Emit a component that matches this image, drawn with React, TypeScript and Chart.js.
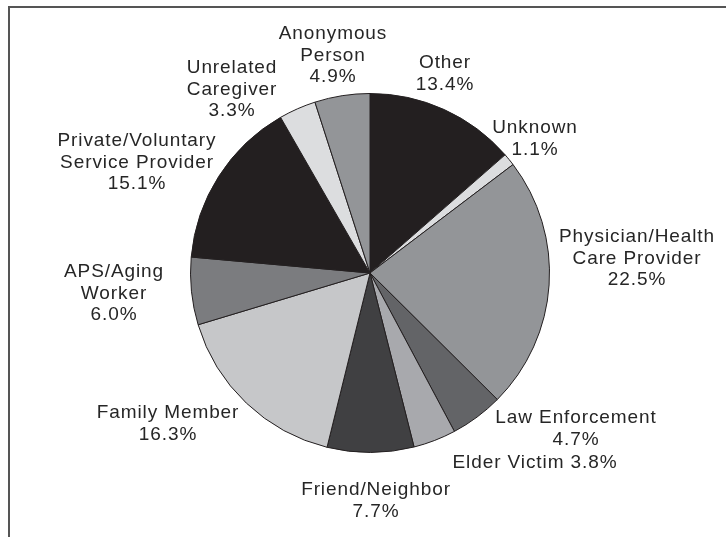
import React, { useEffect, useRef } from "react";
import { Chart, registerables } from "chart.js";

Chart.register(...registerables);

// ---- data ----
const categories = [
  "Other",
  "Unknown",
  "Physician/Health Care Provider",
  "Law Enforcement",
  "Elder Victim",
  "Friend/Neighbor",
  "Family Member",
  "APS/Aging Worker",
  "Private/Voluntary Service Provider",
  "Unrelated Caregiver",
  "Anonymous Person",
];
const shares = [13.4, 1.1, 22.5, 4.7, 3.8, 7.7, 16.3, 6.0, 15.1, 3.3, 4.9];

// label text split into lines
const labelLines = [
  ["Other"],
  ["Unknown"],
  ["Physician/Health", "Care Provider"],
  ["Law Enforcement"],
  ["Elder Victim"],
  ["Friend/Neighbor"],
  ["Family Member"],
  ["APS/Aging", "Worker"],
  ["Private/Voluntary", "Service Provider"],
  ["Unrelated", "Caregiver"],
  ["Anonymous", "Person"],
];
const percentOnSameLine = [false, false, false, false, true, false, false, false, false, false, false];

// ---- styles / layout ----
const sliceColors = [
  "#231f20",
  "#dcdddf",
  "#939598",
  "#636467",
  "#a8a9ad",
  "#404042",
  "#c6c7c9",
  "#7b7c7f",
  "#231f20",
  "#dcdddf",
  "#939598",
];
// offsets (px) of each label's first baseline, relative to pie centre
const labelOffsets: [number, number][] = [
  [75, -205],
  [165, -140],
  [267, -31],
  [206, 150],
  [165, 195],
  [6, 222],
  [-202, 145],
  [-256, 4],
  [-233, -127],
  [-138, -200],
  [-37, -234],
];
const LINE_HEIGHT = 21.5;
const FONT = '19px "Liberation Sans", Arial, Helvetica, sans-serif';
const TEXT_COLOR = "#262626";

const labelPlugin = {
  id: "sliceLabels",
  afterDraw(chart: any) {
    const meta = chart.getDatasetMeta(0);
    const arc = meta.data[0];
    if (!arc) return;
    const cx = arc.x;
    const cy = arc.y;
    const ctx = chart.ctx as CanvasRenderingContext2D;
    ctx.save();
    ctx.font = FONT;
    (ctx as any).letterSpacing = "0.9px";
    ctx.fillStyle = TEXT_COLOR;
    ctx.textAlign = "center";
    ctx.textBaseline = "alphabetic";
    shares.forEach((v, i) => {
      const pct = `${v.toFixed(1)}%`;
      const lines = [...labelLines[i]];
      if (percentOnSameLine[i]) lines[lines.length - 1] += " " + pct;
      else lines.push(pct);
      const [dx, dy] = labelOffsets[i];
      lines.forEach((t, k) => {
        ctx.fillText(t, cx + dx, cy + dy + k * LINE_HEIGHT);
      });
    });
    ctx.restore();
  },
};

export default function App() {
  const canvasRef = useRef<HTMLCanvasElement | null>(null);

  useEffect(() => {
    if (!canvasRef.current) return;
    const chart = new Chart(canvasRef.current, {
      type: "pie",
      data: {
        labels: categories,
        datasets: [
          {
            data: shares,
            backgroundColor: sliceColors,
            borderColor: "#231f20",
            borderWidth: 1,
            hoverOffset: 0,
          },
        ],
      },
      options: {
        animation: false,
        responsive: true,
        maintainAspectRatio: false,
        events: [],
        layout: { padding: { left: 190, right: 176, top: 93, bottom: 84 } },
        plugins: {
          legend: { display: false },
          tooltip: { enabled: false },
          title: { display: false },
        },
      },
      plugins: [labelPlugin],
    });
    return () => chart.destroy();
  }, []);

  return (
    <div
      style={{
        position: "fixed",
        left: 0,
        top: 0,
        width: 726,
        height: 537,
        background: "#ffffff",
        overflow: "hidden",
      }}
    >
      <div
        style={{
          position: "absolute",
          left: 8,
          top: 6,
          width: 800,
          height: 600,
          borderTop: "2px solid #555555",
          borderLeft: "2px solid #555555",
          boxSizing: "border-box",
        }}
      />
      <div style={{ position: "absolute", left: 0, top: 0, width: 726, height: 537 }}>
        <canvas ref={canvasRef} />
      </div>
    </div>
  );
}
